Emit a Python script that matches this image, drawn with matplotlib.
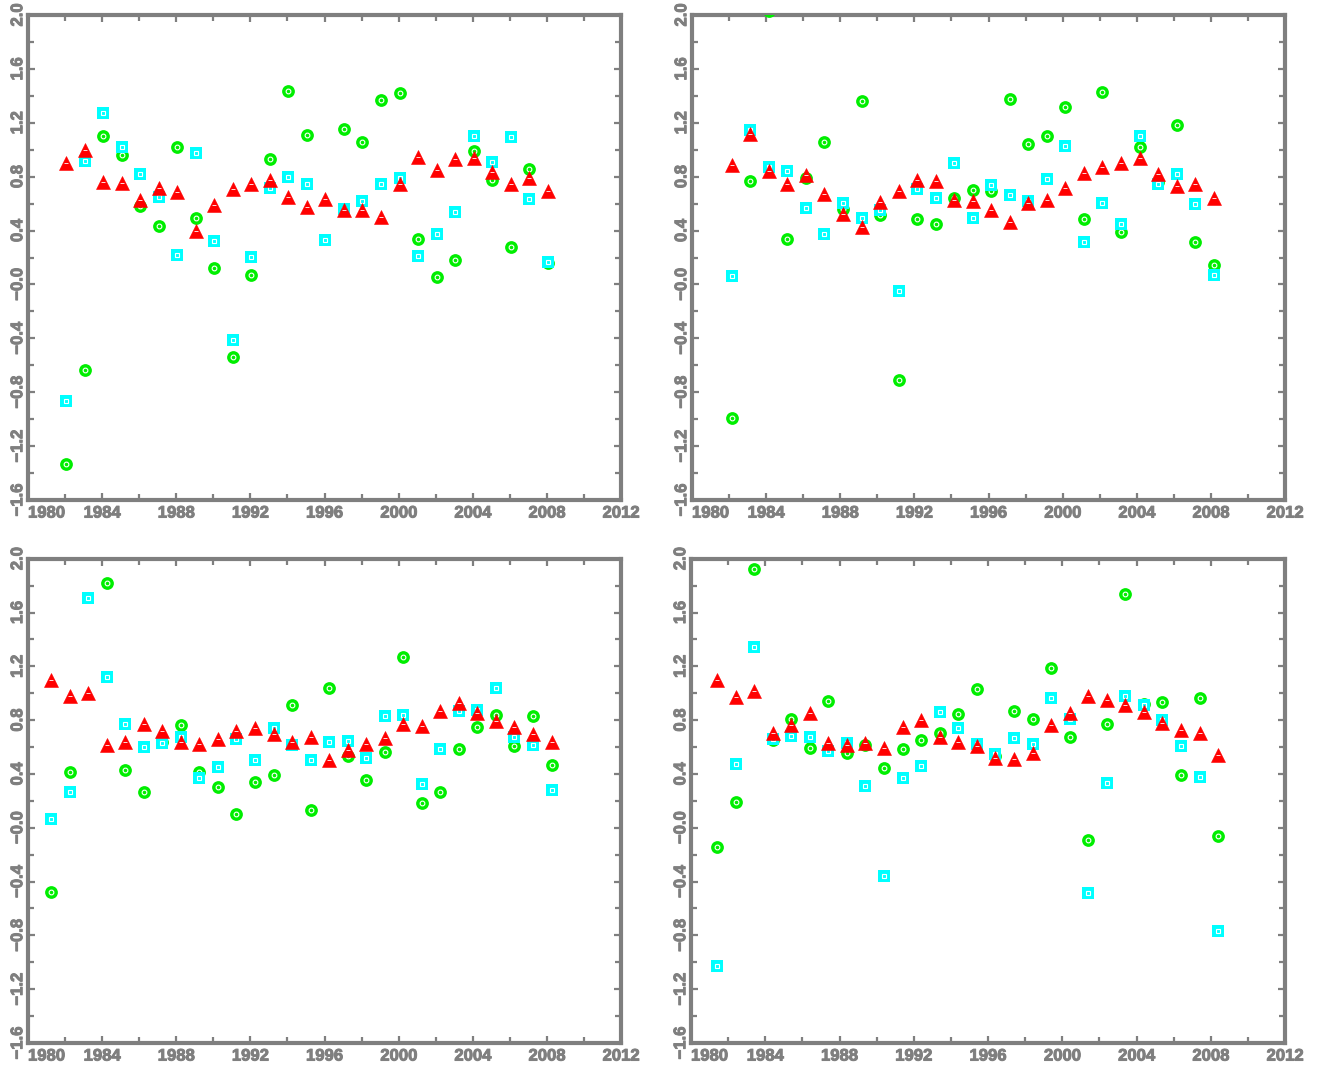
import numpy as np
import matplotlib
matplotlib.use("Agg")
import matplotlib.pyplot as plt
from matplotlib.ticker import MultipleLocator
from matplotlib import patheffects

plt.rcParams['font.family'] = ['Liberation Sans', 'DejaVu Sans']
LABEL_SIZE = 12

nan = np.nan

# ---------------- data ----------------
# top-left
x_tl = [y + 0.05 for y in range(1982, 2009)]
red_tl = [0.90, 1.00, 0.757, 0.75, 0.63, 0.717, 0.687, 0.397, 0.59, 0.706, 0.742, 0.777, 0.651, 0.574,
          0.631, 0.551, 0.551, 0.498, 0.744, 0.943, 0.85, 0.928, 0.938, 0.832, 0.747, 0.789, 0.691]
cyan_tl = [-0.868, 0.915, 1.27, 1.02, 0.817, 0.646, 0.216, 0.976, 0.322, -0.41, 0.204, 0.719, 0.795, 0.742,
           0.327, 0.563, 0.623, 0.742, 0.789, 0.211, 0.372, 0.536, 1.104, 0.906, 1.094, 0.634, 0.168]
green_tl = [-1.336, -0.637, 1.10, 0.963, 0.58, 0.432, 1.019, 0.49, 0.123, -0.539, 0.072, 0.933, 1.436, 1.112,
            nan, 1.157, 1.057, 1.368, 1.419, 0.34, 0.057, 0.183, 0.991, 0.777, 0.276, 0.857, 0.158]

# top-right
x_tr = [y + 0.15 for y in range(1982, 2009)]
red_tr = [0.89, 1.12, 0.845, 0.749, 0.812, 0.669, 0.523, 0.423, 0.614, 0.694, 0.774, 0.767, 0.626, 0.623,
          0.556, 0.463, 0.601, 0.626, 0.717, 0.825, 0.87, 0.90, 0.938, 0.82, 0.734, 0.749, 0.644]
cyan_tr = [0.065, 1.145, 0.875, 0.84, 0.566, 0.374, 0.606, 0.493, 0.556, -0.05, 0.712, 0.644, 0.898, 0.49,
           0.737, 0.667, 0.621, 0.785, 1.029, 0.314, 0.606, 0.45, 1.10, 0.745, 0.817, 0.596, 0.07]
green_tr = [-0.989, 0.765, 2.03, 0.334, 0.79, 1.057, 0.563, 1.358, 0.515, -0.707, 0.488, 0.448, 0.644, 0.699,
            0.694, 1.373, 1.041, 1.104, 1.32, 0.488, 1.429, 0.392, 1.019, 0.76, 1.182, 0.314, 0.148]

# bottom-left
x_bl = [y + 0.25 for y in range(1981, 2009)]
red_bl = [1.096, 0.982, 1.002, 0.618, 0.635, 0.772, 0.716, 0.64, 0.62, 0.658, 0.716, 0.741, 0.698, 0.635,
          0.671, 0.504, 0.577, 0.62, 0.666, 0.772, 0.759, 0.865, 0.924, 0.855, 0.792, 0.747, 0.696, 0.635]
cyan_bl = [0.066, 0.269, 1.705, 1.123, 0.774, 0.597, 0.628, 0.678, 0.37, 0.455, 0.658, 0.501, 0.741, 0.615,
           0.506, 0.638, 0.645, 0.519, 0.83, 0.838, 0.324, 0.582, 0.868, 0.873, 1.038, 0.678, 0.615, 0.281]
green_bl = [-0.48, 0.413, nan, 1.817, 0.43, 0.266, 0.635, 0.762, 0.418, 0.301, 0.101, 0.342, 0.392, 0.911,
            0.129, 1.038, 0.534, 0.352, 0.565, 1.27, 0.185, 0.266, 0.584, 0.751, 0.838, 0.605, 0.833, 0.466]

# bottom-right
x_br = [y + 0.4 for y in range(1981, 2009)]
red_br = [1.096, 0.974, 1.015, 0.703, 0.764, 0.855, 0.633, 0.618, 0.633, 0.595, 0.749, 0.80, 0.678, 0.638,
          0.607, 0.519, 0.511, 0.557, 0.767, 0.855, 0.982, 0.946, 0.916, 0.858, 0.782, 0.726, 0.703, 0.542]
cyan_br = [-1.025, 0.471, 1.346, 0.658, 0.683, 0.678, 0.567, 0.628, 0.311, -0.359, 0.37, 0.458, 0.863, 0.744,
           0.622, 0.546, 0.666, 0.62, 0.962, 0.81, -0.486, 0.329, 0.982, 0.914, 0.80, 0.61, 0.38, -0.767]
green_br = [-0.146, 0.19, 1.92, 0.653, 0.81, 0.595, 0.941, 0.552, 0.618, 0.443, 0.584, 0.656, 0.703, 0.848,
            1.032, 0.537, 0.865, 0.812, 1.184, 0.678, -0.088, 0.774, 1.741, 0.918, 0.936, 0.392, 0.962, -0.065]

xtick_vals = [1980, 1984, 1988, 1992, 1996, 2000, 2004, 2008, 2012]
xtick_labels = ['1980', '1984', '1988', '1992', '1996', '2000', '2004', '2008', '2012']
ytick_vals = [-1.6, -1.2, -0.8, -0.4, 0.0, 0.4, 0.8, 1.2, 1.6, 2.0]
ytick_labels = ['\u22121.6', '\u22121.2', '\u22120.8', '\u22120.4', '\u22120.0',
                '0.4', '0.8', '1.2', '1.6', '2.0']

panels = [
    ([28, 15, 621, 500], x_tl, red_tl, cyan_tl, green_tl),
    ([692, 15, 1285, 500], x_tr, red_tr, cyan_tr, green_tr),
    ([28, 558.7, 621, 1043], x_bl, red_bl, cyan_bl, green_bl),
    ([691, 558.7, 1285, 1043], x_br, red_br, cyan_br, green_br),
]

W, H = 1322, 1073
fig = plt.figure(figsize=(W / 100, H / 100), dpi=100)
GRAY = '#7f7f7f'
GREEN = '#00ee00'
CYAN = '#00ffff'
RED = '#ff0000'
heavy = [patheffects.withStroke(linewidth=0.7, foreground=GRAY)]

for (l, t, r, b), xs, red, cyan, green in panels:
    ax = fig.add_axes([l / W, 1 - b / H, (r - l) / W, (b - t) / H])
    ax.set_xlim(1980, 2012)
    ax.set_ylim(-1.6, 2.0)

    # green circles
    ax.plot(xs, green, ls='none', marker='o', ms=9.2, mfc=GREEN, mec=GREEN, mew=0, zorder=3)
    ax.plot(xs, green, ls='none', marker='o', ms=3.4, mfc='none', mec='white', mew=0.8, zorder=3.01)
    # cyan squares
    ax.plot(xs, cyan, ls='none', marker='s', ms=8.4, mfc=CYAN, mec=CYAN, mew=0, zorder=3.1)
    ax.plot(xs, cyan, ls='none', marker='s', ms=2.8, mfc='none', mec='white', mew=0.8, zorder=3.11)
    # red triangles
    ax.plot(xs, red, ls='none', marker='^', ms=9.4, mfc=RED, mec=RED, mew=0.4, zorder=3.2)
    ax.plot(xs, red, ls='none', marker='_', ms=2.2, mec='white', mew=0.6, zorder=3.21)

    for sp in ax.spines.values():
        sp.set_color(GRAY)
        sp.set_linewidth(3.0)

    ax.set_xticks(xtick_vals)
    labs = ax.set_xticklabels(xtick_labels)
    labs[0].set_horizontalalignment('left')
    ax.xaxis.set_minor_locator(MultipleLocator(2))
    ax.set_yticks(ytick_vals)
    ax.set_yticklabels(ytick_labels)
    ax.yaxis.set_minor_locator(MultipleLocator(0.2))

    ax.tick_params(which='both', direction='in', top=True, right=True, color=GRAY, width=1.6)
    ax.tick_params(which='major', length=5)
    ax.tick_params(which='minor', length=4)
    ax.tick_params(axis='x', which='major', labelsize=LABEL_SIZE, labelcolor=GRAY, pad=4)
    ax.tick_params(axis='y', which='major', labelsize=LABEL_SIZE, labelcolor=GRAY, pad=2, labelrotation=90)
    for lab in ax.get_xticklabels() + ax.get_yticklabels():
        lab.set_fontweight('bold')
        lab.set_path_effects(heavy)
    for lab in ax.get_yticklabels():
        lab.set_verticalalignment('center')

fig.savefig('out.png', dpi=100, facecolor='white')
